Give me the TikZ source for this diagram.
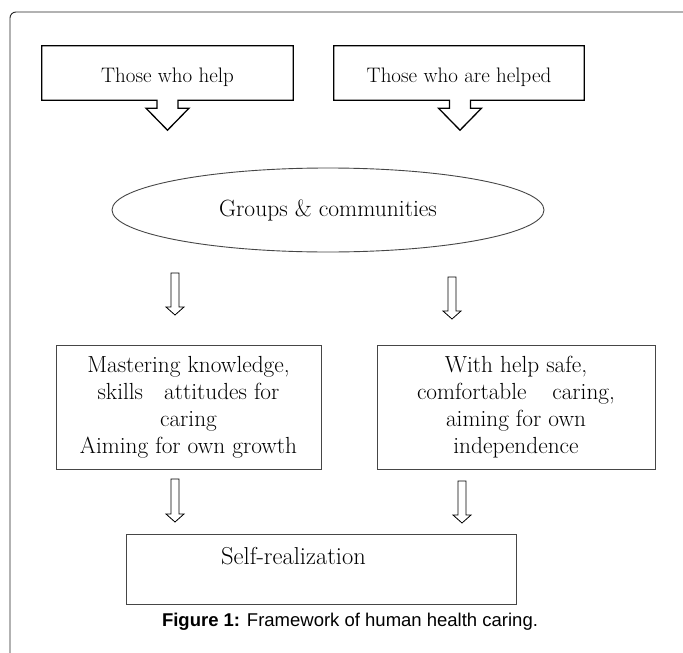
\documentclass[tikz,border=0pt]{standalone}
\usepackage{fontspec}
\newfontfamily\capfont{Liberation Sans}
\usetikzlibrary{shapes.geometric}
\definecolor{lineg}{RGB}{70,70,70}
\tikzset{
  frame/.style={draw=black!85, line width=0.9pt, rounded corners=6pt},
  topbox/.style={draw=none, rectangle, minimum width=251pt, minimum height=54pt, inner sep=0pt, font=\fontsize{21}{25}\selectfont},
  callout/.style={draw=black, line width=1.3pt, fill=white, line join=miter},
  midbox/.style={draw=lineg, line width=0.9pt, rectangle, minimum height=124pt, inner sep=0pt, align=center, font=\fontsize{23.3}{27}\selectfont},
  oval/.style={draw=lineg, line width=0.9pt, ellipse, minimum width=432pt, minimum height=84pt, inner sep=0pt, font=\fontsize{23.5}{27}\selectfont},
  endbox/.style={draw=lineg, line width=0.9pt, rectangle, minimum width=390pt, minimum height=70pt, inner sep=0pt},
  hollow/.style={draw=black, line width=0.8pt, fill=white, line join=miter},
  lbl/.style={inner sep=0pt, font=\fontsize{24.5}{28}\selectfont},
  captext/.style={inner sep=0pt, font=\capfont\fontsize{18.5}{22}\selectfont}
}
\newcommand{\hollowarrow}[3]{% x, top y, tip y
  \draw[hollow] (#1-4,#2) -- (#1+4,#2) -- (#1+4,#3-8) -- (#1+9,#3-8)
    -- (#1,#3) -- (#1-9,#3-8) -- (#1-4,#3-8) -- cycle;}
\begin{document}
\begin{tikzpicture}[x=1pt,y=-1pt]
\useasboundingbox (0,0) rectangle (683,653);
\fill[white] (0,0) rectangle (683,653);
% outer frame
\draw[frame] (10,670) -- (10,12) -- (700,12);

% top callout boxes
\node[topbox] (h1) at (167.5,73) {};
\draw[callout] ([xshift=-10.5pt]h1.south) -- (h1.south west) -- (h1.north west)
  -- (h1.north east) -- (h1.south east) -- ([xshift=10.5pt]h1.south)
  -- ++(0,8) -- ++(11,0) -- ++(-21.5,22) -- ++(-21.5,-22) -- ++(11,0) -- cycle;
\node[topbox] (t1) at (167.5,77) {Those who help};

\node[topbox, minimum width=250pt] (h2) at (459,73) {};
\draw[callout] ([xshift=-9.5pt]h2.south) -- (h2.south west) -- (h2.north west)
  -- (h2.north east) -- (h2.south east) -- ([xshift=11.5pt]h2.south)
  -- ++(0,8) -- ++(11,0) -- ++(-21.5,22) -- ++(-21.5,-22) -- ++(11,0) -- cycle;
\node[topbox] (t2) at (459,77) {Those who are helped};

% ellipse
\node[oval] (g) at (328,210) {Groups \& communities};

% hollow arrows
\hollowarrow{175}{273}{315}
\hollowarrow{452}{277}{319}

% middle boxes
\node[midbox, minimum width=265pt] (m1) at (188.5,407)
  {Mastering knowledge,\\skills\hspace{0.9em}attitudes for\\caring\\Aiming for own growth};
\node[midbox, minimum width=278pt] (m2) at (516,407)
  {With help safe,\\comfortable\hspace{1.1em}caring,\\aiming for own\\independence};

\hollowarrow{175}{479}{522}
\hollowarrow{462}{481}{523}

% final box
\node[endbox] (s) at (321,569) {};
\node[lbl] (st) at (293.5,556) {Self-realization};

% caption
\node[captext] (cap) at (350,622) {\textbf{Figure 1:} Framework of human health caring.};
\end{tikzpicture}
\end{document}
